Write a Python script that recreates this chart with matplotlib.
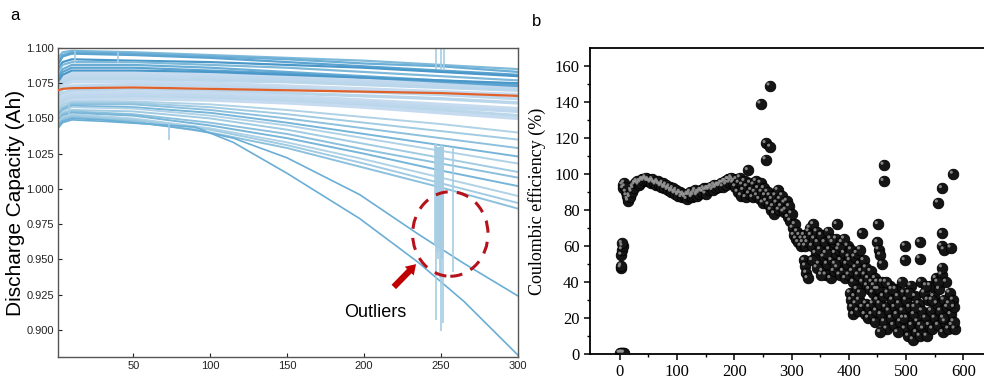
import matplotlib
matplotlib.use("Agg")
import matplotlib.pyplot as plt
from matplotlib.patches import Ellipse
from matplotlib import transforms
import numpy as np

# ---------- panel a: discharge capacity curves ----------
cycles_a = [1, 4, 10, 50, 100, 150, 200, 250, 300]

curves_top = [
    [1.093, 1.097, 1.098, 1.097, 1.095, 1.093, 1.091, 1.088, 1.085],
    [1.090, 1.095, 1.097, 1.096, 1.094, 1.092, 1.089, 1.087, 1.083],
    [1.088, 1.094, 1.096, 1.095, 1.093, 1.090, 1.087, 1.084, 1.081],
    [1.085, 1.090, 1.092, 1.091, 1.090, 1.088, 1.086, 1.083, 1.080],
    [1.083, 1.088, 1.090, 1.090, 1.088, 1.086, 1.083, 1.080, 1.077],
    [1.080, 1.085, 1.088, 1.088, 1.086, 1.083, 1.080, 1.077, 1.074],
    [1.078, 1.083, 1.086, 1.086, 1.084, 1.082, 1.079, 1.076, 1.073],
    [1.076, 1.081, 1.084, 1.084, 1.083, 1.081, 1.079, 1.077, 1.075],
]
curves_mid = [
    [1.074, 1.079, 1.082, 1.082, 1.081, 1.080, 1.078, 1.076, 1.074],
    [1.072, 1.077, 1.080, 1.080, 1.079, 1.078, 1.076, 1.074, 1.072],
    [1.070, 1.075, 1.078, 1.078, 1.077, 1.076, 1.074, 1.072, 1.070],
    [1.068, 1.073, 1.076, 1.076, 1.075, 1.073, 1.071, 1.069, 1.067],
    [1.066, 1.071, 1.073, 1.074, 1.073, 1.071, 1.069, 1.067, 1.064],
    [1.064, 1.068, 1.070, 1.071, 1.070, 1.068, 1.066, 1.064, 1.061],
    [1.062, 1.066, 1.068, 1.069, 1.068, 1.066, 1.063, 1.060, 1.057],
    [1.060, 1.064, 1.066, 1.067, 1.066, 1.064, 1.061, 1.058, 1.055],
    [1.058, 1.062, 1.064, 1.065, 1.064, 1.062, 1.059, 1.056, 1.052],
    [1.056, 1.060, 1.063, 1.064, 1.063, 1.061, 1.058, 1.054, 1.050],
]
curves_fan = [
    [1.056, 1.060, 1.062, 1.062, 1.060, 1.056, 1.051, 1.046, 1.040],
    [1.054, 1.058, 1.061, 1.061, 1.058, 1.053, 1.047, 1.041, 1.035],
    [1.053, 1.057, 1.060, 1.060, 1.056, 1.050, 1.043, 1.036, 1.029],
    [1.052, 1.056, 1.059, 1.058, 1.054, 1.047, 1.039, 1.031, 1.023],
    [1.050, 1.055, 1.058, 1.057, 1.052, 1.045, 1.036, 1.027, 1.018],
    [1.050, 1.054, 1.056, 1.055, 1.050, 1.042, 1.032, 1.022, 1.012],
    [1.049, 1.053, 1.055, 1.053, 1.047, 1.039, 1.028, 1.018, 1.008],
    [1.048, 1.052, 1.054, 1.052, 1.045, 1.036, 1.025, 1.013, 1.002],
    [1.047, 1.051, 1.053, 1.050, 1.043, 1.033, 1.021, 1.008, 0.995],
    [1.046, 1.050, 1.052, 1.049, 1.042, 1.031, 1.018, 1.004, 0.990],
    [1.045, 1.049, 1.051, 1.048, 1.040, 1.029, 1.015, 1.001, 0.986],
]
cycles_low = [1, 4, 10, 30, 60, 90, 115, 150, 197, 235, 265, 300]
curves_low = [
    [1.045, 1.048, 1.050, 1.049, 1.046, 1.042, 1.036, 1.022, 0.996, 0.968, 0.947, 0.924],
    [1.043, 1.047, 1.049, 1.048, 1.046, 1.044, 1.033, 1.011, 0.979, 0.948, 0.920, 0.882],
]
reference_curve = [1.070, 1.071, 1.0715, 1.072, 1.071, 1.070, 1.069, 1.068, 1.066]

# outlier spikes: cycle, value on curve, spike value
spike_cycle = [12, 40, 73, 8, 247, 250, 252,
               246, 247, 247.5, 248, 248.5, 249, 249.5, 250, 250.5, 251, 251.5, 258]
spike_base = [1.098, 1.097, 1.047, 1.060, 1.085, 1.085, 1.085,
              1.032, 1.032, 1.030, 1.030, 1.030, 1.030, 1.030, 1.032, 1.030, 1.030, 1.030, 1.030]
spike_tip = [1.089, 1.089, 1.035, 1.053, 1.102, 1.102, 1.102,
             0.960, 0.907, 0.955, 0.950, 0.958, 0.937, 0.955, 0.899, 0.950, 0.905, 0.958, 0.941]

# ---------- panel b: coulombic efficiency ----------
ce_start = [(0, 0.5), (2, 0.5), (4, 0.8), (6, 0.5), (8, 0.6),
            (2, 48), (3, 49), (3, 55), (4, 58), (5, 60), (4, 61.5)]

plateau_cyc = [5, 8, 11, 14, 17, 20, 23, 26, 29, 32, 35, 38, 41, 44, 47, 50, 53, 56, 59, 62,
               65, 68, 71, 74, 77, 80, 83, 86, 89, 92, 95, 98, 101, 104, 107, 110, 113, 116,
               119, 122, 125, 128, 131, 134, 137, 140, 143, 146, 149, 152, 155, 158, 161, 164,
               167, 170, 173, 176, 179, 182, 185, 188, 191, 194, 197, 200]
plateau_ce = [94, 95, 90, 86, 88, 91, 93, 94, 95, 95, 96, 96, 97, 97, 97, 97, 96, 96, 96, 95,
              95, 95, 94, 94, 93, 93, 92, 92, 91, 91, 90, 90, 89, 89, 89, 88, 88, 88,
              89, 89, 88, 89, 90, 89, 90, 90, 91, 90, 91, 91, 92, 92, 93, 92,
              93, 93, 94, 94, 95, 95, 96, 95, 97, 96, 97, 96]
plateau2_cyc = [6, 9, 12, 15, 18, 21, 24, 27, 30, 33, 36, 39, 42, 45, 48, 51, 54, 57, 60, 63,
                66, 69, 72, 75, 78, 81, 84, 87, 90, 93, 96, 99, 102, 105, 108, 111, 114, 117,
                120, 123, 126, 129, 132, 135, 138, 141, 144, 147, 150, 153, 156, 159, 162, 165,
                168, 171, 174, 177, 180, 183, 186, 189, 192, 195, 198]
plateau2_ce = [92, 93, 88, 85, 87, 90, 92, 95, 96, 94, 95, 97, 96, 98, 96, 96, 95, 97, 95, 94,
               96, 94, 93, 95, 92, 94, 91, 93, 90, 92, 89, 91, 88, 90, 87, 89, 87, 86,
               88, 90, 87, 88, 91, 88, 89, 91, 90, 92, 89, 92, 91, 93, 91, 94,
               92, 94, 93, 95, 93, 96, 94, 97, 95, 98, 95]

ce_fall = [(202, 93), (204, 97), (206, 90), (208, 95), (210, 98), (212, 88), (214, 94), (216, 91),
           (218, 96), (220, 87), (222, 93), (224, 102), (226, 89), (228, 95), (230, 91), (232, 87),
           (234, 94), (236, 90), (238, 96), (240, 88), (242, 92), (244, 86), (246, 95), (248, 90),
           (250, 84), (252, 92), (254, 88), (256, 85), (258, 90), (260, 83), (262, 88), (264, 80),
           (266, 86), (268, 82), (270, 78), (272, 88), (274, 84), (276, 91), (278, 80), (280, 86),
           (282, 82), (284, 88), (286, 79), (288, 84), (290, 80), (292, 85), (294, 76), (296, 82),
           (298, 74), (300, 78), (302, 70), (304, 66), (306, 72), (308, 64), (310, 68), (312, 62),
           (314, 66), (316, 60), (318, 64), (320, 62), (322, 66), (324, 60), (326, 64), (328, 62),
           (330, 68), (322, 52), (324, 49), (326, 45), (328, 42)]

ce_scatter = [(332, 70), (334, 66), (336, 60), (338, 72), (340, 64), (342, 56), (344, 68), (346, 62),
              (348, 50), (350, 58), (352, 66), (354, 46), (356, 54), (358, 62), (360, 44), (362, 50),
              (364, 68), (366, 58), (368, 42), (370, 52), (372, 62), (374, 46), (376, 56), (378, 64),
              (380, 48), (382, 58), (384, 44), (386, 52), (388, 62), (390, 46), (392, 56), (394, 42),
              (396, 50), (398, 60), (400, 44), (336, 52), (344, 48), (352, 44), (360, 56), (368, 64),
              (376, 50), (384, 60), (392, 64), (400, 54),
              (402, 52), (404, 58), (406, 46), (408, 40), (410, 54), (412, 48), (414, 56), (416, 44),
              (418, 50), (420, 58), (422, 46), (424, 40), (426, 52), (428, 44), (430, 48), (432, 38),
              (434, 42), (436, 36), (438, 46), (440, 40), (442, 34), (444, 38), (446, 42), (448, 36),
              (450, 40), (402, 34), (404, 30), (406, 26), (408, 22), (410, 32), (412, 28), (414, 36),
              (416, 24), (418, 30), (420, 34), (424, 26), (428, 22), (430, 28), (434, 20), (436, 26),
              (440, 22), (442, 28), (446, 18), (448, 24), (450, 30),
              (452, 36), (454, 28), (456, 22), (458, 40), (460, 32), (462, 18), (464, 26), (466, 14),
              (468, 34), (470, 24), (472, 38), (474, 20), (476, 30), (478, 16), (480, 26), (482, 36),
              (484, 22), (486, 32), (488, 28), (490, 18), (492, 40), (494, 24), (496, 34), (498, 14),
              (500, 30), (502, 20), (504, 10), (506, 26), (508, 38), (510, 16), (512, 8), (514, 22),
              (516, 32), (518, 12), (520, 18), (522, 28), (524, 10), (526, 40), (528, 24), (530, 14),
              (532, 34), (534, 20), (536, 10), (538, 30), (540, 16), (542, 38), (544, 24), (546, 14),
              (548, 32), (550, 20), (552, 42), (554, 28), (556, 16), (558, 36), (560, 24), (562, 44),
              (564, 12), (566, 30), (568, 18), (570, 40), (572, 26), (574, 14), (576, 34), (578, 22),
              (580, 16), (582, 30), (584, 26), (585, 14), (545, 30), (555, 40), (565, 20), (575, 28),
              (583, 18), (505, 34), (515, 26), (525, 16), (535, 38), (455, 12), (465, 40), (475, 36),
              (485, 12), (495, 20)]

ce_outliers = [(461, 105), (461, 96), (451, 72), (450, 62), (452, 58), (455, 55), (458, 50),
               (498, 60), (498, 52), (524, 62), (524, 53), (582, 100), (563, 92), (556, 84),
               (563, 67), (562, 60), (566, 58), (578, 59), (563, 48), (379, 72), (423, 67),
               (255, 108), (246, 139), (262, 149), (255, 117), (263, 115)]

# ---------- figure ----------
fig = plt.figure(figsize=(9.84, 3.8), dpi=100)
ax1 = fig.add_axes([58 / 984, 23 / 380, 460 / 984, 309 / 380])
ax2 = fig.add_axes([590 / 984, 26 / 380, 394 / 984, 306 / 380])

cmap = plt.get_cmap("Blues")
for i, c in enumerate(curves_mid):
    ax1.plot(cycles_a, c, color=cmap(0.25 + 0.02 * (i % 3)), lw=2.4, zorder=1)
for i, c in enumerate(curves_top):
    ax1.plot(cycles_a, c, color=cmap(0.45 + 0.05 * (i % 4)), lw=1.6, zorder=2)
for i, c in enumerate(curves_fan):
    ax1.plot(cycles_a, c, color=cmap(0.32 + 0.05 * (i % 4)), lw=1.4, zorder=2)
for c in curves_low:
    ax1.plot(cycles_low, c, color="#6aaed6", lw=1.2, zorder=2)
ax1.vlines(spike_cycle, spike_base, spike_tip, color="#a6cde4", lw=1.2, zorder=2)
ax1.plot(cycles_a, reference_curve, color="#e0612a", lw=1.6, zorder=4)

ax1.add_patch(Ellipse((256, 0.968), 49, 0.060, fill=False, ls=(0, (4, 3)),
                      lw=2.2, ec="#b5121b", zorder=5))
ax1.annotate("", xy=(235, 0.948), xytext=(218, 0.929),
             arrowprops=dict(arrowstyle="simple,head_length=0.7,head_width=0.9,tail_width=0.45",
                             color="#c00000", lw=0), zorder=5)
ax1.text(207, 0.912, "Outliers", ha="center", va="center", fontsize=13,
         family="Liberation Sans")

ax1.set_xlim(1, 300)
ax1.set_ylim(0.8807, 1.1)
ax1.set_xticks([50, 100, 150, 200, 250, 300])
ax1.set_yticks(np.arange(0.9, 1.1001, 0.025))
ax1.yaxis.set_major_formatter(plt.FormatStrFormatter("%.3f"))
ax1.tick_params(direction="in", length=3, labelsize=8, width=0.8, colors="#222222", pad=3)
for lab in ax1.get_xticklabels() + ax1.get_yticklabels():
    lab.set_family("Liberation Sans")
for sp in ax1.spines.values():
    sp.set_color("#555555")
    sp.set_linewidth(1.0)
ax1.set_ylabel("Discharge Capacity (Ah)", fontsize=15, family="Liberation Sans")
ax1.yaxis.set_label_coords(-0.072, 0.5)

# panel b
pts = ce_start + list(zip(plateau_cyc, plateau_ce)) + list(zip(plateau2_cyc, plateau2_ce)) \
    + ce_fall + ce_scatter + ce_outliers
bx = np.array([p[0] for p in pts], dtype=float)
by = np.array([p[1] for p in pts], dtype=float)
ax2.scatter(bx, by, s=58, c="#151515", edgecolors="#000000", linewidths=0.6, zorder=3)
hl = transforms.offset_copy(ax2.transData, fig=fig, x=-1.3, y=1.3, units="points")
ax2.scatter(bx, by, s=5, c="#9a9a9a", edgecolors="none", alpha=0.85, transform=hl, zorder=4)

ax2.set_xlim(-52, 636)
ax2.set_ylim(0, 170)
ax2.set_xticks(range(0, 601, 100))
ax2.set_xticks(range(50, 601, 100), minor=True)
ax2.set_yticks(range(0, 161, 20))
ax2.set_yticks(range(10, 161, 20), minor=True)
ax2.tick_params(direction="out", length=4, width=1.1, labelsize=12)
ax2.tick_params(which="minor", direction="out", length=2.5, width=1.0)
for lab in ax2.get_xticklabels() + ax2.get_yticklabels():
    lab.set_family("Liberation Serif")
ax2.spines["right"].set_visible(False)
for sp in ["left", "top", "bottom"]:
    ax2.spines[sp].set_linewidth(1.3)
ax2.set_ylabel("Coulombic efficiency (%)", fontsize=13, family="Liberation Serif")
ax2.yaxis.set_label_coords(-0.112, 0.5)

fig.text(15 / 984, 1 - 15 / 380, "a", fontsize=12, ha="center", va="center",
         family="Liberation Sans")
fig.text(537 / 984, 1 - 22 / 380, "b", fontsize=12, ha="center", va="center",
         family="Liberation Sans")

fig.savefig("out.png", dpi=100)
